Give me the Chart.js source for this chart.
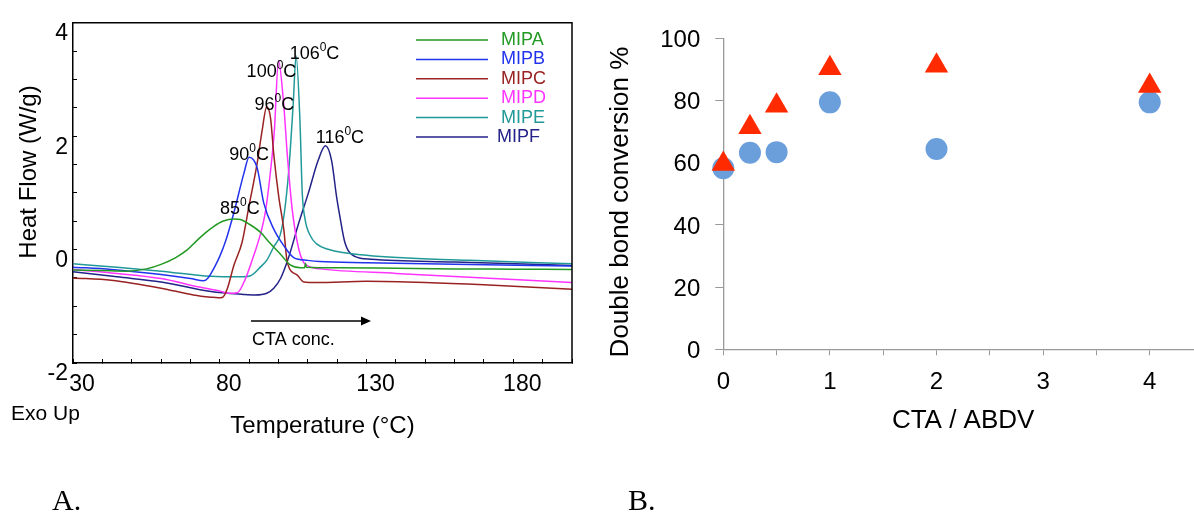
<!DOCTYPE html>
<html>
<head>
<meta charset="utf-8">
<script src="https://cdn.jsdelivr.net/npm/chart.js@4.4.0/dist/chart.umd.min.js"></script>
<style>
    html, body { margin: 0; padding: 0; overflow: hidden; background: #fff; }
    body { position: relative; width: 1194px; height: 512px; }
    .panel { position: absolute; top: 0; }
    .tag { position: absolute; top: 485px; font: 30px/30px "Liberation Serif", "Times New Roman", serif; color: #000; }
</style>
</head>
<body>
<canvas id="dscChart" class="panel" style="left:0" width="600" height="512"></canvas>
<canvas id="convChart" class="panel" style="left:600px" width="620" height="512"></canvas>
<div class="tag" style="left:52px">A.</div>
<div class="tag" style="left:628px">B.</div>
<script>
// DSC traces, temperature in °C and heat flow in W/g
const mipaTemp = [30, 40, 48, 55, 60, 65, 69, 72, 75, 78, 81, 85, 87, 90, 94, 97, 101, 104, 107.5, 108.9, 109.2, 109.5, 120, 140, 160, 180, 200];
const mipaFlow = [-0.36, -0.37, -0.38, -0.34, -0.26, -0.14, 0.00, 0.15, 0.29, 0.41, 0.50, 0.54, 0.53, 0.45, 0.30, 0.12, -0.10, -0.27, -0.32, -0.32, -0.24, -0.31, -0.32, -0.33, -0.34, -0.345, -0.35];

const mipbTemp = [30, 43, 60, 70, 74.5, 76, 78, 80, 82, 84.8, 88.2, 90, 92.7, 95, 98.4, 101.8, 105.2, 110, 114, 130, 160, 200];
const mipbFlow = [-0.31, -0.35, -0.44, -0.51, -0.55, -0.50, -0.33, -0.12, 0.15, 0.65, 1.34, 1.63, 1.45, 0.82, 0.36, 0.07, -0.14, -0.19, -0.21, -0.23, -0.26, -0.29];

const mipcTemp = [30, 43, 60, 71, 77, 79.5, 81, 82.5, 84.8, 87.6, 90, 92.7, 94.4, 96, 97.3, 98.4, 100.1, 101.8, 103, 106.4, 108.6, 113, 130, 150, 170, 200];
const mipcFlow = [-0.50, -0.54, -0.68, -0.80, -0.84, -0.85, -0.84, -0.70, -0.28, 0.13, 0.78, 1.51, 2.09, 2.52, 2.32, 1.68, 0.93, 0.36, -0.22, -0.45, -0.57, -0.58, -0.56, -0.58, -0.62, -0.70];

const mipdTemp = [30, 45, 60, 73, 80, 83, 86, 88.7, 91.6, 94, 95.5, 97, 98.6, 100, 101.8, 103, 104.7, 106.9, 108.5, 111, 114.3, 140, 170, 200];
const mipdFlow = [-0.35, -0.42, -0.51, -0.66, -0.73, -0.77, -0.76, -0.52, -0.10, 0.30, 0.65, 1.25, 2.10, 3.33, 2.55, 1.68, 0.70, 0.01, -0.22, -0.31, -0.34, -0.42, -0.50, -0.58];

const mipeTemp = [30, 45, 60, 77, 87, 90.5, 94, 96.1, 98.4, 100.6, 102, 103.5, 105, 106, 107.3, 108.1, 109, 110.9, 113, 116.6, 130, 165, 200];
const mipeFlow = [-0.25, -0.31, -0.38, -0.47, -0.48, -0.46, -0.30, -0.18, 0.05, 0.26, 0.65, 1.39, 2.55, 3.42, 2.30, 1.00, 0.55, 0.24, 0.10, 0.01, -0.10, -0.19, -0.25];

const mipfTemp = [30, 45, 60, 77, 88, 92, 96, 98.4, 100.7, 103.5, 106.8, 110.2, 113.5, 116, 118.1, 119.8, 120.9, 122.6, 126, 131.5, 160, 200];
const mipfFlow = [-0.39, -0.48, -0.57, -0.74, -0.79, -0.80, -0.77, -0.68, -0.51, -0.13, 0.45, 1.0, 1.57, 1.83, 1.57, 0.93, 0.59, 0.13, -0.12, -0.17, -0.22, -0.28];

const sampleNames = ['MIPA', 'MIPB', 'MIPC', 'MIPD', 'MIPE', 'MIPF'];
const sampleColors = ['#229922', '#2233ee', '#992222', '#ff33ff', '#229999', '#222288'];
const traceTemps = [mipaTemp, mipbTemp, mipcTemp, mipdTemp, mipeTemp, mipfTemp];
const traceFlows = [mipaFlow, mipbFlow, mipcFlow, mipdFlow, mipeFlow, mipfFlow];

// conversion vs CTA / ABDV ratio
const ctaRatio = [0, 0.25, 0.5, 1, 2, 4];
const convTriangles = [59.6, 71.4, 78.3, 90.4, 91.2, 84.7];
const convCircles = [58.2, 63.2, 63.4, 79.4, 64.4, 79.4];

const FONT = '"Liberation Sans", Arial, Helvetica, sans-serif';
Chart.defaults.font.family = FONT;
Chart.defaults.color = '#000';

// nudges for the peak temperature tags, px from the peak point
const peakLabelShift = [[5.5, -10], [0, -2], [7.7, -2], [-7, 11], [18.4, -1.5], [14.5, -7.7]];

const dscDecor = {
    id: 'dscDecor',
    afterDatasetsDraw(chart) {
        const { ctx, chartArea: a, scales: { x, y } } = chart;
        ctx.save();

        // closing frame (top and right)
        ctx.strokeStyle = '#000';
        ctx.lineWidth = 1.5;
        ctx.beginPath();
        ctx.moveTo(a.left, a.top);
        ctx.lineTo(a.right, a.top);
        ctx.lineTo(a.right, a.bottom);
        ctx.stroke();

        // legend
        ctx.textBaseline = 'middle';
        ctx.textAlign = 'left';
        ctx.font = '18px ' + FONT;
        chart.data.datasets.forEach((ds, i) => {
            const ry = 40 + i * 19.4;
            ctx.strokeStyle = ds.borderColor;
            ctx.lineWidth = 1.5;
            ctx.beginPath();
            ctx.moveTo(416, ry);
            ctx.lineTo(488, ry);
            ctx.stroke();
            ctx.fillStyle = ds.borderColor;
            ctx.fillText(ds.label, i === 5 ? 497 : 501, ry);
        });

        // peak temperatures
        ctx.fillStyle = '#000';
        chart.data.datasets.forEach((ds, i) => {
            let top = ds.data[0];
            ds.data.forEach(p => { if (p.y > top.y) top = p; });
            const main = String(top.x);
            ctx.font = '18px ' + FONT;
            const w1 = ctx.measureText(main).width;
            const w3 = ctx.measureText('C').width;
            ctx.font = '12px ' + FONT;
            const w2 = ctx.measureText('0').width;
            const cx = x.getPixelForValue(top.x) + peakLabelShift[i][0];
            const cy = y.getPixelForValue(top.y) + peakLabelShift[i][1];
            let lx = cx - (w1 + w2 + w3) / 2;
            ctx.font = '18px ' + FONT;
            ctx.fillText(main, lx, cy);
            ctx.font = '12px ' + FONT;
            ctx.fillText('0', lx + w1, cy - 6);
            ctx.font = '18px ' + FONT;
            ctx.fillText('C', lx + w1 + w2, cy);
        });

        // CTA concentration arrow
        ctx.strokeStyle = '#000';
        ctx.lineWidth = 1.5;
        ctx.beginPath();
        ctx.moveTo(251, 321);
        ctx.lineTo(363, 321);
        ctx.stroke();
        ctx.beginPath();
        ctx.moveTo(371, 321);
        ctx.lineTo(361, 316.5);
        ctx.lineTo(361, 325.5);
        ctx.closePath();
        ctx.fill();
        ctx.font = '18px ' + FONT;
        ctx.fillText('CTA conc.', 252, 340);

        ctx.font = '21px ' + FONT;
        ctx.fillText('Exo Up', 11, 414);

        // y title
        ctx.translate(29.5, 172);
        ctx.rotate(-Math.PI / 2);
        ctx.textAlign = 'center';
        ctx.font = '24px ' + FONT;
        ctx.fillText('Heat Flow (W/g)', 0, 0);
        ctx.restore();
    }
};

new Chart(document.getElementById('dscChart'), {
    type: 'line',
    data: {
        datasets: sampleNames.map((name, i) => ({
            label: name,
            data: traceTemps[i].map((t, j) => ({ x: t, y: traceFlows[i][j] })),
            borderColor: sampleColors[i],
            borderWidth: 1.5,
            pointRadius: 0,
            fill: false,
            cubicInterpolationMode: 'monotone'
        }))
    },
    options: {
        responsive: false,
        animation: false,
        events: [],
        layout: { padding: { left: 0, top: 16, right: 28, bottom: 0 } },
        plugins: { legend: { display: false }, tooltip: { enabled: false } },
        scales: {
            x: {
                type: 'linear',
                min: 30,
                max: 200,
                afterFit: s => { s.height = 149; },
                border: { color: '#000', width: 1.5 },
                grid: { drawOnChartArea: false, tickLength: -4, color: '#000' },
                ticks: {
                    stepSize: 10,
                    autoSkip: false,
                    maxRotation: 0,
                    padding: 12,
                    labelOffset: 9,
                    font: { size: 23 },
                    callback: v => ((v - 30) % 50 === 0 ? v : '')
                },
                title: {
                    display: true,
                    text: 'Temperature (°C)',
                    font: { size: 24 },
                    padding: { top: 0, bottom: 71.6 }
                }
            },
            y: {
                min: -2,
                max: 4,
                afterFit: s => { s.width = 73; },
                border: { color: '#000', width: 1.5 },
                grid: { drawOnChartArea: false, tickLength: -4, color: '#000' },
                ticks: {
                    stepSize: 0.5,
                    autoSkip: false,
                    padding: 9,
                    labelOffset: 11,
                    font: { size: 23 },
                    callback: v => (v % 2 === 0 ? v : '')
                }
            }
        }
    },
    plugins: [dscDecor]
});

const convDecor = {
    id: 'convDecor',
    afterDraw(chart) {
        const { ctx } = chart;
        ctx.save();
        ctx.translate(21, 202);
        ctx.rotate(-Math.PI / 2);
        ctx.textAlign = 'center';
        ctx.textBaseline = 'middle';
        ctx.fillStyle = '#000';
        ctx.font = '26px ' + FONT;
        ctx.fillText('Double bond conversion %', 0, 0);
        ctx.restore();
    }
};

new Chart(document.getElementById('convChart'), {
    type: 'scatter',
    data: {
        datasets: [
            {
                label: 'triangles',
                data: ctaRatio.map((r, i) => ({ x: r, y: convTriangles[i] })),
                pointStyle: 'triangle',
                pointRadius: 13.5,
                backgroundColor: '#ff2a00',
                borderWidth: 0,
                clip: false
            },
            {
                label: 'circles',
                data: ctaRatio.map((r, i) => ({ x: r, y: convCircles[i] })),
                pointStyle: 'circle',
                pointRadius: 11,
                backgroundColor: '#6a9fdc',
                borderWidth: 0,
                clip: false
            }
        ]
    },
    options: {
        responsive: false,
        animation: false,
        events: [],
        layout: { padding: { left: 0, top: 38.3, right: 17, bottom: 62.7 } },
        plugins: { legend: { display: false }, tooltip: { enabled: false } },
        scales: {
            x: {
                type: 'linear',
                min: 0,
                max: 4.5,
                afterFit: s => { s.height = 100; },
                border: { color: '#999', width: 1.3 },
                grid: { drawOnChartArea: false, tickLength: 6, color: '#999' },
                ticks: {
                    stepSize: 0.5,
                    autoSkip: false,
                    maxRotation: 0,
                    padding: 13,
                    font: { size: 24 },
                    callback: v => (Number.isInteger(v) ? v : '')
                },
                title: {
                    display: true,
                    text: 'CTA / ABDV',
                    font: { size: 26 },
                    padding: { top: 0, bottom: 12.7 }
                }
            },
            y: {
                min: 0,
                max: 100,
                afterFit: s => { s.width = 123.3; },
                border: { color: '#999', width: 1.3 },
                grid: { drawOnChartArea: false, tickLength: 8, color: '#999' },
                ticks: {
                    stepSize: 20,
                    padding: 15,
                    labelOffset: 2,
                    font: { size: 24 }
                }
            }
        }
    },
    plugins: [convDecor]
});
</script>
</body>
</html>
